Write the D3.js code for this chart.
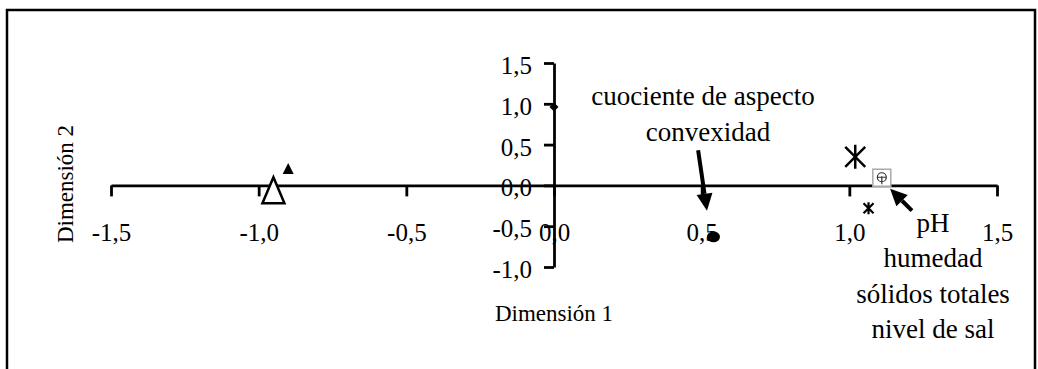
<!DOCTYPE html>
<html>
<head>
<meta charset="utf-8">
<script src="https://cdn.jsdelivr.net/npm/d3@7"></script>
<style>
  body { margin: 0; background: #fff; }
  svg text { font-family: "Liberation Serif", "Times New Roman", serif; fill: #000; }
</style>
</head>
<body>
<svg id="mysvg" width="1038" height="369"></svg>
<script>
// Data
const xTicks = [-1.5, -1.0, -0.5, 0.0, 0.5, 1.0, 1.5];
const yTicks = [-1.0, -0.5, 0.0, 0.5, 1.0, 1.5];

const pointX = [-0.95, -0.90, 0.00, 0.54, 1.02, 1.11, 1.065];
const pointY = [-0.06, 0.20, 0.96, -0.63, 0.35, 0.10, -0.28];
const pointShape = ['openTriangle', 'triangle', 'diamond', 'blob', 'bigStar', 'squareCircle', 'smallStar'];

const labelLines1 = ['cuociente de aspecto', 'convexidad'];
const labelLines2 = ['pH', 'humedad', 'sólidos totales', 'nivel de sal'];

// arrows: [x1, y1, x2, y2] in data units (head at x2,y2)
const arrows = [
  [0.488, 0.43, 0.518, -0.31],
  [1.212, -0.31, 1.138, -0.04]
];

const svg = d3.select('#mysvg');
const serif = '"Liberation Serif", "Times New Roman", serif';

// outer frame
svg.append('rect')
  .attr('x', 7).attr('y', 10)
  .attr('width', 1028).attr('height', 400)
  .attr('fill', 'none').attr('stroke', '#000').attr('stroke-width', 2.5);

const xScale = d3.scaleLinear().domain([-1.5, 1.5]).range([111, 997]);
const yScale = d3.scaleLinear().domain([-1.0, 1.5]).range([267, 63]);

const loc = d3.formatLocale({decimal: ',', thousands: '.', grouping: [3], currency: ['', ''], minus: '-'});
const fmt = loc.format('.1f');

// X axis through y = 0
const xAxis = svg.append('g')
  .attr('class', 'x-axis')
  .attr('transform', `translate(0, ${yScale(0)})`)
  .call(d3.axisBottom(xScale).tickValues(xTicks).tickSizeInner(11).tickSizeOuter(0).tickFormat(fmt));

// Y axis through x = 0
const yAxis = svg.append('g')
  .attr('class', 'y-axis')
  .attr('transform', `translate(${xScale(0)}, 0)`)
  .call(d3.axisLeft(yScale).tickValues(yTicks).tickSizeInner(10).tickSizeOuter(0).tickFormat(fmt));

svg.selectAll('.x-axis, .y-axis').attr('font-family', serif);
svg.selectAll('.x-axis path, .y-axis path, .x-axis line, .y-axis line')
  .attr('stroke', '#000').attr('stroke-width', 2.8);

xAxis.selectAll('text')
  .attr('y', 56).attr('dy', 0)
  .style('font-size', '25px');
yAxis.selectAll('text')
  .attr('x', -22).attr('dy', '0.42em')
  .style('font-size', '25px');

// axis titles
svg.append('text')
  .attr('x', xScale(0)).attr('y', 321)
  .attr('text-anchor', 'middle')
  .style('font-size', '23px')
  .text('Dimensión 1');

svg.append('text')
  .attr('transform', 'translate(73, 184) rotate(-90)')
  .attr('text-anchor', 'middle')
  .style('font-size', '23px')
  .text('Dimensión 2');

// points
const pts = svg.append('g').selectAll('g')
  .data(pointX.map((x, i) => ({x: x, y: pointY[i], shape: pointShape[i]})))
  .join('g')
  .attr('transform', d => `translate(${xScale(d.x)}, ${yScale(d.y)})`);

pts.each(function(d) {
  const g = d3.select(this);
  if (d.shape === 'openTriangle') {
    g.append('path').attr('d', 'M0,-13 L11,13 L-11,13 Z')
      .attr('fill', '#fff').attr('stroke', '#000').attr('stroke-width', 2.5);
  } else if (d.shape === 'triangle') {
    g.append('path').attr('d', 'M0,-6 L5.5,5 L-5.5,5 Z').attr('fill', '#000');
  } else if (d.shape === 'diamond') {
    g.append('path').attr('d', 'M0,-4.5 L4.5,0 L0,4.5 L-4.5,0 Z').attr('fill', '#000');
  } else if (d.shape === 'blob') {
    g.append('ellipse').attr('rx', 6.5).attr('ry', 5.5).attr('fill', '#000');
  } else if (d.shape === 'bigStar') {
    g.append('path').attr('d', 'M-10,-10 L10,10 M-10,10 L10,-10 M0,-12 L0,12')
      .attr('stroke', '#000').attr('stroke-width', 2.5);
  } else if (d.shape === 'squareCircle') {
    g.append('rect').attr('x', -9).attr('y', -8).attr('width', 18).attr('height', 17)
      .attr('fill', '#fff').attr('stroke', '#aaa').attr('stroke-width', 1.5);
    g.append('circle').attr('r', 4.5).attr('fill', 'none').attr('stroke', '#333').attr('stroke-width', 1.2);
    g.append('path').attr('d', 'M0,-1 L0,7 M-4.5,0 L4.5,0').attr('stroke', '#333').attr('stroke-width', 1.2);
  } else if (d.shape === 'smallStar') {
    g.append('path').attr('d', 'M-5,-5 L5,5 M-5,5 L5,-5 M0,-6 L0,6')
      .attr('stroke', '#000').attr('stroke-width', 2.2);
  }
});

// arrows
const arrowG = svg.append('g');
arrows.forEach(a => {
  const x1 = xScale(a[0]), y1 = yScale(a[1]), x2 = xScale(a[2]), y2 = yScale(a[3]);
  const ang = Math.atan2(y2 - y1, x2 - x1);
  const len = 17, half = 8;
  const bx = x2 - len * Math.cos(ang), by = y2 - len * Math.sin(ang);
  arrowG.append('line')
    .attr('x1', x1).attr('y1', y1).attr('x2', bx).attr('y2', by)
    .attr('stroke', '#000').attr('stroke-width', 4);
  arrowG.append('path')
    .attr('d', `M${x2},${y2} L${bx + half * Math.sin(ang)},${by - half * Math.cos(ang)} L${bx - half * Math.sin(ang)},${by + half * Math.cos(ang)} Z`)
    .attr('fill', '#000');
});

// annotation labels
svg.append('g').selectAll('text')
  .data(labelLines1)
  .join('text')
  .attr('x', (d, i) => i === 0 ? 703 : 708)
  .attr('y', (d, i) => 105 + i * 36)
  .attr('text-anchor', 'middle')
  .style('font-size', '27px')
  .text(d => d);

svg.append('g').selectAll('text')
  .data(labelLines2)
  .join('text')
  .attr('x', 933)
  .attr('y', (d, i) => 232 + i * 35.3)
  .attr('text-anchor', 'middle')
  .style('font-size', '27px')
  .text(d => d);
</script>
</body>
</html>
